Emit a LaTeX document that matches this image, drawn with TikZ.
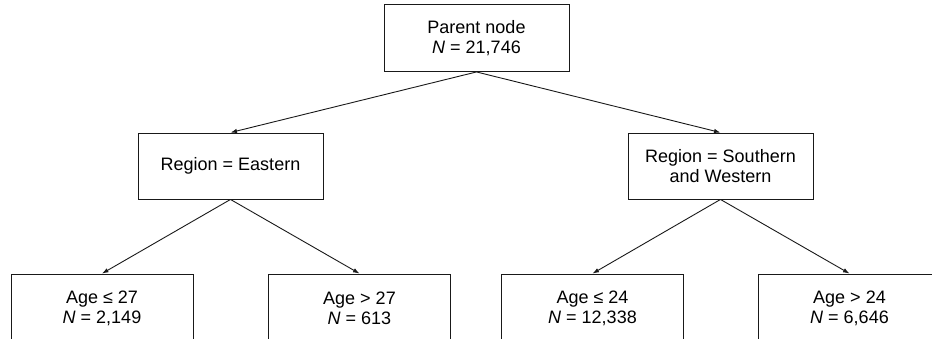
\documentclass[tikz,border=0pt]{standalone}
\usepackage{fontspec}
\setmainfont{Liberation Sans}
\usetikzlibrary{arrows.meta}
\tikzset{
  box/.style={draw=black!90, line width=0.9pt, minimum width=185pt, minimum height=67pt,
    inner sep=0pt, align=center, font=\fontsize{18}{20}\selectfont},
  lowbox/.style={box, minimum width=182pt, minimum height=68pt},
  link/.style={draw=black!90, line width=0.9pt, -{Latex[length=6.5pt,width=4.5pt]}}
}
\begin{document}
\begin{tikzpicture}[x=1pt,y=-1pt]
\clip (0,0) rectangle (932,339);
\useasboundingbox (0,0) rectangle (932,339);
\node[box] (parent) at (476.5,38) {Parent node\\\textit{N} = 21,746};
\node[box, minimum height=66pt] (east) at (230.5,166) {Region = Eastern};
\node[box, minimum height=66pt] (south) at (720.5,166) {Region = Southern\\and Western};
\node[lowbox] (b1) at (102,308) {Age ≤ 27\\\textit{N} = 2,149};
\node[lowbox] (b2) at (359.5,308) {Age \textgreater{} 27\\\textit{N} = 613};
\node[lowbox] (b3) at (592.5,308) {Age ≤ 24\\\textit{N} = 12,338};
\node[lowbox] (b4) at (849.5,308) {Age \textgreater{} 24\\\textit{N} = 6,646};
\draw[link] (parent.south) -- (east.north);
\draw[link] (parent.south) -- (south.north);
\draw[link] (east.south) -- (b1.north);
\draw[link] (east.south) -- (b2.north);
\draw[link] (south.south) -- (b3.north);
\draw[link] (south.south) -- (b4.north);
\end{tikzpicture}
\end{document}
